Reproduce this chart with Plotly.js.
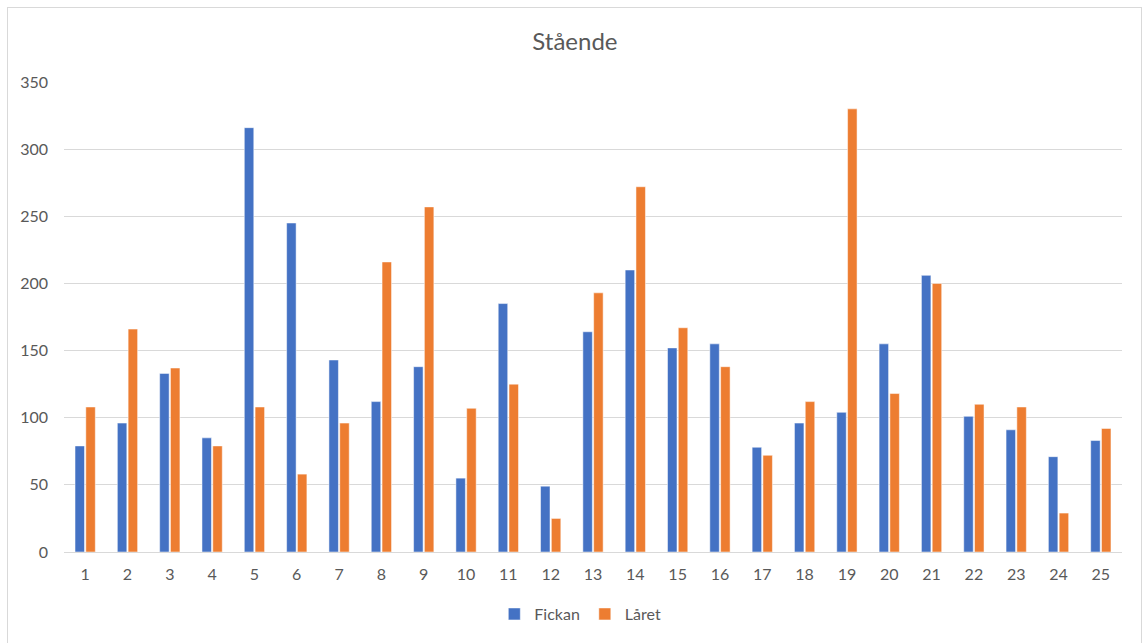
<!DOCTYPE html>
<html>
<head>
<meta charset="utf-8">
<script src="https://cdn.plot.ly/plotly-3.0.1.min.js"></script>
<style>
  html, body { margin: 0; padding: 0; background: #fff; }
  #wrap { position: relative; width: 1143px; height: 643px; overflow: hidden; }
  #chart { position: absolute; left: 0; top: 0; width: 1143px; height: 643px; }
  #frame { position: absolute; left: 7px; top: 7px; width: 1133px; height: 660px;
           border: 1px solid #D9D9D9; pointer-events: none; }
</style>
</head>
<body>
<div id="wrap">
  <div id="chart"></div>
  <div id="frame"></div>
</div>
<script>
// Categories (positions 1–25)
const categories = ["1","2","3","4","5","6","7","8","9","10","11","12","13",
                    "14","15","16","17","18","19","20","21","22","23","24","25"];

// Series values
const fickan = [79, 96, 133, 85, 316, 245, 143, 112, 138, 55, 185, 49, 164,
                210, 152, 155, 78, 96, 104, 155, 206, 101, 91, 71, 83];
const laret  = [108, 166, 137, 79, 108, 58, 96, 216, 257, 107, 125, 25, 193,
                272, 167, 138, 72, 112, 330, 118, 200, 110, 108, 29, 92];

// Y-axis tick values
const yTicks = [0, 50, 100, 150, 200, 250, 300, 350];

const FONT = "Lato, 'Open Sans', sans-serif";
const GREY_TEXT = "#595959";

const traces = [
  {
    type: "bar", name: "Fickan", x: categories, y: fickan,
    marker: { color: "#4472C4", line: { color: "#ffffff", width: 0.5 } },
    hoverinfo: "x+y+name"
  },
  {
    type: "bar", name: "Låret", x: categories, y: laret,
    marker: { color: "#ED7D31", line: { color: "#ffffff", width: 0.5 } },
    hoverinfo: "x+y+name"
  }
];

const layout = {
  width: 1143, height: 643,
  paper_bgcolor: "rgba(0,0,0,0)", plot_bgcolor: "#ffffff",
  margin: { l: 64, r: 21, t: 82, b: 91 },
  font: { family: FONT, color: GREY_TEXT, size: 16 },
  title: {
    text: "Stående",
    font: { family: FONT, size: 24, color: GREY_TEXT },
    x: 0.503, xanchor: "center", y: 0.936, yanchor: "middle"
  },
  barmode: "group",
  bargap: 0.49,
  bargroupgap: 0.12,
  xaxis: {
    type: "category",
    showgrid: false, zeroline: false, showline: false,
    ticks: "", ticklabelstandoff: 11,
    tickfont: { family: FONT, size: 16, color: GREY_TEXT }
  },
  yaxis: {
    range: [0, 350], tickvals: yTicks, ticktext: yTicks.map(String),
    showgrid: true, gridcolor: "#D9D9D9", gridwidth: 1,
    zeroline: true, zerolinecolor: "#D9D9D9", zerolinewidth: 1,
    showline: false, ticks: "", ticklabelstandoff: 15,
    tickfont: { family: FONT, size: 16, color: GREY_TEXT }
  },
  showlegend: true,
  legend: {
    orientation: "h", x: 0.488, xanchor: "center", y: -0.132, yanchor: "middle",
    font: { family: FONT, size: 16, color: GREY_TEXT },
    itemwidth: 30, traceorder: "normal", bgcolor: "rgba(0,0,0,0)"
  }
};

Plotly.newPlot("chart", traces, layout, { displayModeBar: false, staticPlot: true });
</script>
</body>
</html>
